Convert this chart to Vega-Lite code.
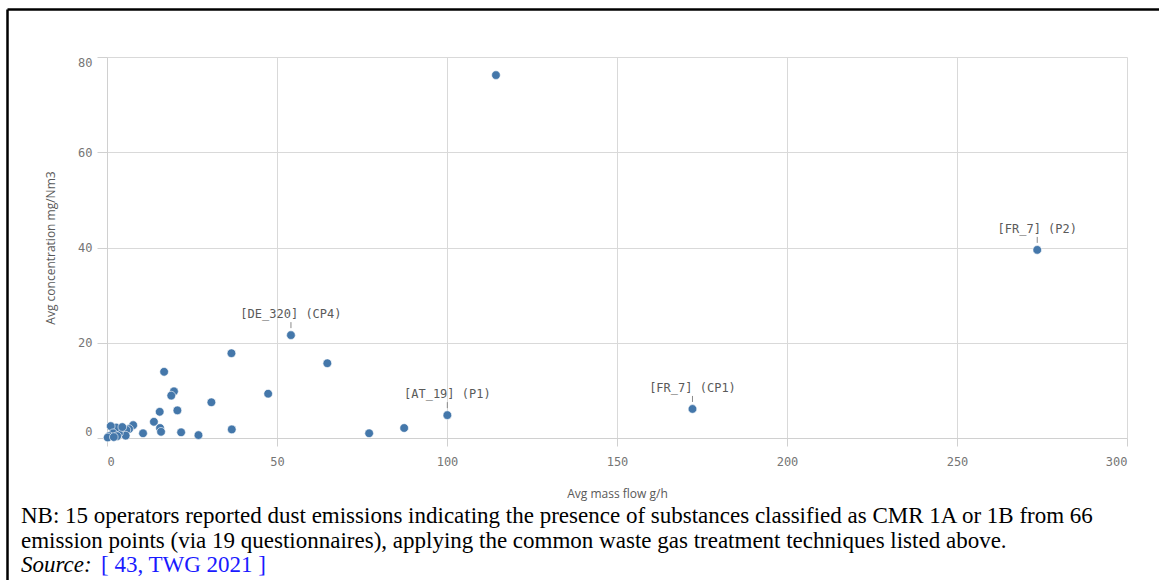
{
  "$schema": "https://vega.github.io/schema/vega-lite/v6.json",
  "padding": {"left": 7, "top": 9, "right": 0, "bottom": 0},
  "background": "white",
  "config": {"view": {"stroke": null}},
  "bounds": "flush",
  "spacing": 161,
  "vconcat": [
    {
      "width": 1020,
      "height": 381,
      "resolve": {"scale": {"x": "independent", "y": "independent"}, "axis": {"x": "independent", "y": "independent"}},
      "layer": [
        {
          "data": {"values": []},
          "mark": "point",
          "encoding": {
            "x": {"field": "bx", "type": "quantitative", "scale": {"domain": [0, 1], "range": [-100, 1052]},
              "axis": {"orient": "top", "offset": 48, "labels": false, "ticks": false, "grid": false, "title": null, "domainColor": "black", "domainWidth": 2.5}},
            "y": {"field": "by", "type": "quantitative", "scale": {"domain": [0, 1], "range": [524, -48]},
              "axis": {"orient": "right", "offset": -1120, "labels": false, "ticks": false, "grid": false, "title": null, "domainColor": "black", "domainWidth": 2.5}}
          }
        },
        {
          "data": {"values": [
            {"flow": 114.4, "conc": 76.2, "label": null},
            {"flow": 273.6, "conc": 39.5, "label": "[FR_7] (P2)"},
            {"flow": 54.1, "conc": 21.6, "label": "[DE_320] (CP4)"},
            {"flow": 36.6, "conc": 17.8, "label": null},
            {"flow": 64.8, "conc": 15.7, "label": null},
            {"flow": 16.8, "conc": 13.9, "label": null},
            {"flow": 19.7, "conc": 9.8, "label": null},
            {"flow": 18.9, "conc": 8.9, "label": null},
            {"flow": 47.4, "conc": 9.3, "label": null},
            {"flow": 30.7, "conc": 7.5, "label": null},
            {"flow": 15.5, "conc": 5.5, "label": null},
            {"flow": 20.7, "conc": 5.8, "label": null},
            {"flow": 100.1, "conc": 4.8, "label": "[AT_19] (P1)"},
            {"flow": 172.2, "conc": 6.1, "label": "[FR_7] (CP1)"},
            {"flow": 13.8, "conc": 3.4, "label": null},
            {"flow": 15.6, "conc": 2.1, "label": null},
            {"flow": 15.9, "conc": 1.3, "label": null},
            {"flow": 36.7, "conc": 1.8, "label": null},
            {"flow": 21.8, "conc": 1.2, "label": null},
            {"flow": 26.9, "conc": 0.6, "label": null},
            {"flow": 10.6, "conc": 1.0, "label": null},
            {"flow": 77.1, "conc": 1.0, "label": null},
            {"flow": 87.4, "conc": 2.1, "label": null},
            {"flow": 7.7, "conc": 2.7, "label": null},
            {"flow": 6.5, "conc": 1.9, "label": null},
            {"flow": 5.7, "conc": 1.7, "label": null},
            {"flow": 5.5, "conc": 0.5, "label": null},
            {"flow": 3.5, "conc": 1.0, "label": null},
            {"flow": 2.7, "conc": 2.2, "label": null},
            {"flow": 1.1, "conc": 2.5, "label": null},
            {"flow": 1.8, "conc": 1.0, "label": null},
            {"flow": 0.6, "conc": 0.4, "label": null},
            {"flow": 3.0, "conc": 0.4, "label": null},
            {"flow": 0.2, "conc": 0.1, "label": null},
            {"flow": 4.5, "conc": 2.3, "label": null},
            {"flow": 2.0, "conc": 0.2, "label": null}
          ]},
          "encoding": {
            "x": {"field": "flow", "type": "quantitative", "scale": {"domain": [0, 300], "nice": false},
              "axis": {"title": "Avg mass flow g/h", "values": [0, 50, 100, 150, 200, 250, 300], "format": "d", "labelFlush": true, "grid": true,
                "tickSize": 8, "labelPadding": 10, "labelFont": "DejaVu Sans Mono", "labelFontSize": 12, "labelColor": "#757575",
                "titleFont": "Open Sans", "titleFontSize": 12, "titleFontWeight": "normal", "titleColor": "#595959", "titlePadding": 21,
                "gridColor": "#d9d9d9", "domainColor": "#d0d0d0", "tickColor": "#d0d0d0"}},
            "y": {"field": "conc", "type": "quantitative", "scale": {"domain": [0, 80], "nice": false},
              "axis": {"title": "Avg concentration mg/Nm3", "values": [0, 20, 40, 60, 80], "format": "d", "labelFlush": true, "grid": true,
                "tickSize": 10, "labelPadding": 5, "labelFont": "DejaVu Sans Mono", "labelFontSize": 12, "labelColor": "#757575",
                "titleFont": "Open Sans", "titleFontSize": 12, "titleFontWeight": "normal", "titleColor": "#595959", "titlePadding": 20,
                "gridColor": "#d9d9d9", "domainColor": "#d0d0d0", "tickColor": "#d0d0d0"}}
          },
          "layer": [
            {"mark": {"type": "point", "filled": true, "size": 75, "color": "#4477aa", "opacity": 1, "stroke": "white", "strokeWidth": 0.6}},
            {"transform": [{"filter": "datum.label != null"}],
             "mark": {"type": "rule", "color": "#8a8a8a", "strokeWidth": 1, "yOffset": -13, "y2Offset": -7},
             "encoding": {"y2": {"field": "conc"}}},
            {"transform": [{"filter": "datum.label != null"}],
             "mark": {"type": "text", "baseline": "alphabetic", "dy": -17, "font": "DejaVu Sans Mono", "fontSize": 12, "color": "#5a5a5a"},
             "encoding": {"text": {"field": "label"}}}
          ]
        }
      ]
    },
    {
      "bounds": "flush",
      "spacing": 0,
      "hconcat": [
        {"width": 80, "height": 0, "data": {"values": []}, "mark": "point", "encoding": {},
         "title": {"text": "Source:", "orient": "top", "anchor": "start", "frame": "group", "dx": -86, "offset": 4, "baseline": "alphabetic",
           "font": "Liberation Serif", "fontSize": 23, "fontStyle": "italic", "fontWeight": "normal", "color": "black"}},
        {"width": 1, "height": 0, "data": {"values": []}, "mark": "point", "encoding": {},
         "title": {"text": "[ 43, TWG 2021 ]", "orient": "top", "anchor": "start", "frame": "group", "dx": -86, "offset": 4, "baseline": "alphabetic",
           "font": "Liberation Serif", "fontSize": 23, "fontWeight": "normal", "color": "#1a1aff"}},
        {"width": 1, "height": 0, "data": {"values": []}, "mark": "point", "encoding": {},
         "title": {"text": ["NB: 15 operators reported dust emissions indicating the presence of substances classified as CMR 1A or 1B  from 66", "emission points (via 19 questionnaires), applying the common waste gas treatment techniques listed above."],
           "orient": "top", "anchor": "start", "frame": "group", "dx": -167, "offset": 46, "baseline": "top", "lineHeight": 25,
           "font": "Liberation Serif", "fontSize": 23, "fontWeight": "normal", "color": "black"}}
      ]
    }
  ]
}
